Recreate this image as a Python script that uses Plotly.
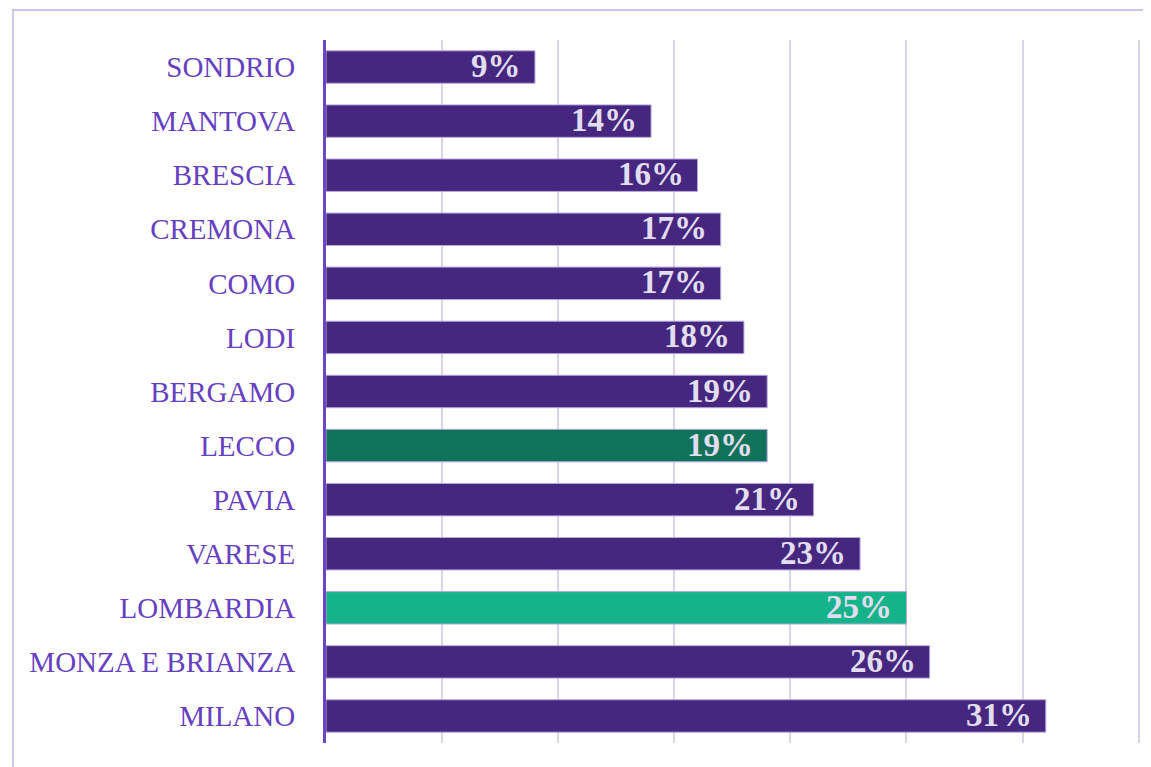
import plotly.graph_objects as go

categories = ["SONDRIO", "MANTOVA", "BRESCIA", "CREMONA", "COMO", "LODI", "BERGAMO",
              "LECCO", "PAVIA", "VARESE", "LOMBARDIA", "MONZA E BRIANZA", "MILANO"]
values = [9, 14, 16, 17, 17, 18, 19, 19, 21, 23, 25, 26, 31]
labels = [f"{v}%" for v in values]

PURPLE = "#45277f"
DARKGREEN = "#0e7359"
GREEN = "#14b38a"
colors = [DARKGREEN if c == "LECCO" else GREEN if c == "LOMBARDIA" else PURPLE for c in categories]

fig = go.Figure(go.Bar(
    y=categories, x=values, orientation="h",
    marker=dict(color=colors, line=dict(color="#b9a8de", width=1)),
    width=0.6,
))

for c, v, t in zip(categories, values, labels):
    fig.add_annotation(x=v, y=c, text=f"<b>{t}</b>", showarrow=False,
                       xanchor="right", yanchor="middle", xshift=-12, yshift=1,
                       font=dict(family="Liberation Serif", size=33, color="#e2ddf0"))

# page body has an 8px margin; figure is sized so that marks land at the reference positions
fig.update_layout(
    width=1143, height=759,
    margin=dict(l=318, r=10, t=32, b=24),
    paper_bgcolor="white", plot_bgcolor="white",
    showlegend=False,
    xaxis=dict(range=[0, 35.1], tickvals=[0, 5, 10, 15, 20, 25, 30, 35], showticklabels=False,
               showgrid=True, gridcolor="#d8d2ea", gridwidth=1.5, zeroline=False, fixedrange=True),
    yaxis=dict(categoryorder="array", categoryarray=categories, autorange="reversed",
               showline=True, linecolor="#6a45c4", linewidth=3,
               tickfont=dict(family="Liberation Serif", size=29, color="#6640c0"),
               ticks="", ticklabelstandoff=22, showgrid=False),
    shapes=[dict(type="rect", xref="paper", yref="paper", x0=-0.384, x1=1.05, y0=-0.1, y1=1.0427,
                 line=dict(color="#cfc3ec", width=2), fillcolor="rgba(0,0,0,0)", layer="below")],
)

fig.write_html("out.html")
